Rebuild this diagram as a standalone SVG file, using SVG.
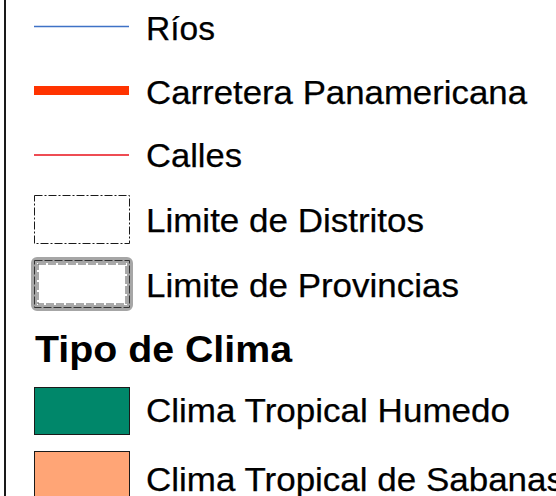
<svg xmlns="http://www.w3.org/2000/svg" width="556" height="496" viewBox="0 0 556 496">
<style>
.t{font-family:"Liberation Sans",Arial,sans-serif;font-size:34px;fill:#000;stroke:#000;stroke-width:0.25}
.h{font-family:"Liberation Sans",Arial,sans-serif;font-size:36px;font-weight:bold;fill:#000}
.sw{stroke:#1a1a1a;stroke-width:1}
</style>
<rect width="556" height="496" fill="#fff"/>
<rect x="4" y="0" width="2" height="496" fill="#1a1a1a"/>
<g id="rios">
<line x1="34" y1="26.5" x2="129" y2="26.5" stroke="#3F72C6" stroke-width="1.5"/>
<text class="t" x="146" y="40" textLength="69" lengthAdjust="spacingAndGlyphs">Ríos</text>
</g>
<g id="carretera">
<line x1="34" y1="90.5" x2="129" y2="90.5" stroke="#FF3300" stroke-width="9"/>
<text class="t" x="146" y="103.5" textLength="381" lengthAdjust="spacingAndGlyphs">Carretera Panamericana</text>
</g>
<g id="calles">
<line x1="34" y1="155" x2="129" y2="155" stroke="#E8101A" stroke-width="1.5"/>
<text class="t" x="146" y="166.5" textLength="96" lengthAdjust="spacingAndGlyphs">Calles</text>
</g>
<g id="distritos">
<rect x="34.5" y="195.5" width="95" height="48" fill="none" class="sw" stroke-dasharray="8,2,2,2"/>
<text class="t" x="146" y="231.5" textLength="278" lengthAdjust="spacingAndGlyphs">Limite de Distritos</text>
</g>
<g id="provincias">
<rect x="34" y="260" width="96" height="48" rx="3" fill="none" stroke="#a6a6a6" stroke-width="6"/>
<rect x="34.5" y="260.5" width="95" height="47" fill="none" stroke="#333" stroke-width="1" stroke-dasharray="8,2"/>
<rect x="38" y="264" width="88" height="40" fill="none" stroke="#555" stroke-width="1" stroke-dasharray="8,2"/>
<text class="t" x="146" y="296.5" textLength="313" lengthAdjust="spacingAndGlyphs">Limite de Provincias</text>
</g>
<g id="titulo">
<text class="h" x="35" y="362" textLength="257" lengthAdjust="spacingAndGlyphs">Tipo de Clima</text>
</g>
<g id="humedo">
<rect x="34.5" y="387.5" width="95" height="47" fill="#00876A" class="sw"/>
<text class="t" x="146" y="421.5" textLength="364" lengthAdjust="spacingAndGlyphs">Clima Tropical Humedo</text>
</g>
<g id="sabanas">
<rect x="34.5" y="451.5" width="95" height="55" fill="#FFA576" class="sw"/>
<text class="t" x="146" y="490.5" textLength="418" lengthAdjust="spacingAndGlyphs">Clima Tropical de Sabanas</text>
</g>
<g id="connectors"/>
</svg>
